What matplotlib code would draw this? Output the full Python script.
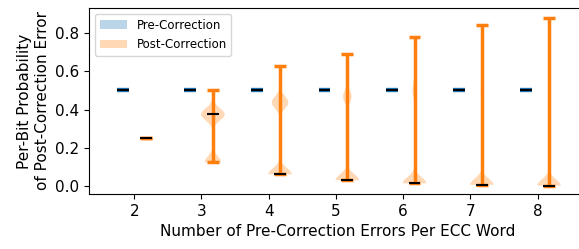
import numpy as np
from matplotlib import pyplot as plt
from matplotlib.patches import Patch

# number of pre-correction errors per ECC word
n_errors = [2, 3, 4, 5, 6, 7, 8]

# pre-correction per-bit error probability (same for every word)
pre_values = [[0.5], [0.5], [0.5], [0.5], [0.5], [0.5], [0.5]]

# post-correction per-bit error probability: (value, count)
post_points = [
    [(0.25, 1)],
    [(0.125, 7), (0.375, 10), (0.5, 1)],
    [(0.0625, 10), (0.4375, 7), (0.625, 1)],
    [(0.03125, 11), (0.46875, 4), (0.6875, 1)],
    [(0.015625, 11), (0.5, 2), (0.78, 1)],
    [(0.0078, 11), (0.5, 1), (0.84, 1)],
    [(0.0039, 12), (0.5, 1), (0.88, 1)],
]
post_values = [np.repeat([v for v, c in pts], [c for v, c in pts]) for pts in post_points]

offset = 0.17
width = 0.35
bw = 0.032


def bw_fixed(kde):
    # fixed kernel width in data units
    return bw / np.std(kde.dataset, ddof=1)


fig = plt.figure(figsize=(5.79, 2.49), dpi=100)
# right edge of the axes runs a little past the figure, as in the original
ax = fig.add_axes([0.154, 0.221, 0.858, 0.747])

pre_pos = [n - offset for n in n_errors]
post_pos = [n + offset for n in n_errors]

vp = ax.violinplot(pre_values, positions=pre_pos, widths=width, showmedians=True)
for b in vp["bodies"]:
    b.set_facecolor("C0")
    b.set_alpha(0.3)
for key in ["cmaxes", "cmins", "cbars"]:
    vp[key].set_color("C0")
    vp[key].set_linewidth(3)
vp["cmedians"].set_color("black")
vp["cmedians"].set_linewidth(1.5)

vp2 = ax.violinplot(post_values, positions=post_pos, widths=width, showmedians=True,
                    bw_method=bw_fixed)
for b in vp2["bodies"]:
    b.set_facecolor("C1")
    b.set_alpha(0.3)
for key in ["cmaxes", "cmins", "cbars"]:
    vp2[key].set_color("C1")
    vp2[key].set_linewidth(2.5)
vp2["cmedians"].set_color("black")
vp2["cmedians"].set_linewidth(1.5)

ax.set_xlim(1.33, 8.72)
ax.set_ylim(-0.04, 0.93)
ax.set_xticks(n_errors)
ax.set_yticks([0.0, 0.2, 0.4, 0.6, 0.8])
ax.tick_params(axis="both", which="major", labelsize=11)
ax.set_xlabel("Number of Pre-Correction Errors Per ECC Word", fontsize=11)
ax.set_ylabel("Per-Bit Probability\nof Post-Correction Error", fontsize=11)

handles = [Patch(facecolor="C0", alpha=0.3), Patch(facecolor="C1", alpha=0.3)]
ax.legend(handles, ["Pre-Correction", "Post-Correction"], loc="upper left", fontsize=8.5,
          handlelength=2.3, labelspacing=0.55)

fig.savefig("out.png", dpi=100)
